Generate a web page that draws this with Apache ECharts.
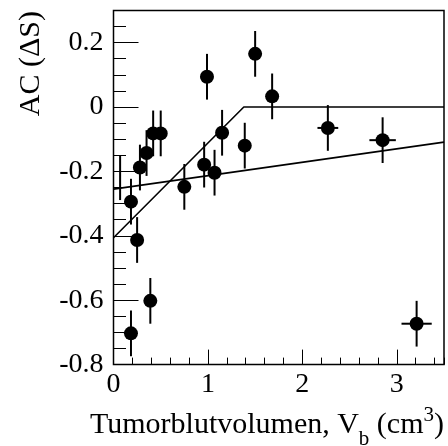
<!DOCTYPE html>
<html><head><meta charset="utf-8">
<script src="https://cdn.jsdelivr.net/npm/echarts@6/dist/echarts.min.js"></script>
<style>html,body{margin:0;padding:0;background:#fff}#c{width:448px;height:446px}</style>
</head><body><div id="c"></div>
<script>
// Data
const pointX = [0.185, 0.185, 0.25, 0.28, 0.35, 0.39, 0.42, 0.50, 0.75, 0.96, 0.99, 1.07, 1.15, 1.39, 1.50, 1.68, 2.27, 2.85, 3.21];
const pointY = [-0.294, -0.703, -0.413, -0.188, -0.143, -0.602, -0.082, -0.082, -0.248, -0.179, 0.094, -0.204, -0.080, -0.120, 0.165, 0.033, -0.065, -0.103, -0.673];
const errX   = [0, 0, 0, 0, 0, 0, 0, 0, 0, 0, 0, 0, 0, 0, 0, 0, 0.11, 0.14, 0.16];
const errY   = [0.071, 0.071, 0.071, 0.071, 0.071, 0.071, 0.071, 0.071, 0.071, 0.071, 0.071, 0.071, 0.071, 0.071, 0.071, 0.071, 0.071, 0.071, 0.071];
// error bar visible without marker near the axis
const bareX = [0.07];
const bareY = [-0.219];
const bareErrY = [0.07];
// fit lines
const fitAX = [0, 1.38, 3.5];
const fitAY = [-0.406, 0, 0];
const fitBX = [0, 3.5];
const fitBY = [-0.255, -0.109];
// axis ticks
const xMin = 0, xMax = 3.5, xMajor = 1, xMinor = 0.2;
const yMin = -0.8, yMax = 0.3, yMajor = 0.2, yMinor = 0.05;
const xTitle = ['Tumorblutvolumen, V', 'b', ' (cm', '3', ')'];
const yTitle = 'AC (\u0394S)';

const FONT = '"Liberation Serif", "DejaVu Serif", serif';
const chart = echarts.init(document.getElementById('c'), null, {renderer: 'canvas'});

const pts = pointX.map((x, i) => [x, pointY[i], errX[i], errY[i]]);
const bare = bareX.map((x, i) => [x, bareY[i], 0, bareErrY[i]]);

function errRender(params, api) {
  const x = api.value(0), y = api.value(1), ex = api.value(2), ey = api.value(3);
  const children = [];
  const style = {stroke: '#000', lineWidth: 2};
  const a = api.coord([x, y - ey]), b = api.coord([x, y + ey]);
  children.push({type: 'line', shape: {x1: a[0], y1: a[1], x2: b[0], y2: b[1]}, style});
  if (ex > 0) {
    const c = api.coord([x - ex, y]), d = api.coord([x + ex, y]);
    children.push({type: 'line', shape: {x1: c[0], y1: c[1], x2: d[0], y2: d[1]}, style});
  }
  return {type: 'group', children};
}

const axisCommon = {
  splitLine: {show: false},
  axisLine: {show: false, onZero: false},
};

chart.setOption({
  animation: false,
  grid: {left: 113.5, right: 4, top: 10.4, bottom: 81.4, show: true, borderColor: '#000', borderWidth: 1.5, backgroundColor: 'transparent'},
  xAxis: [
    Object.assign({type: 'value', min: xMin, max: xMax, interval: xMajor, position: 'bottom',
      axisTick: {show: true, inside: true, length: 15, lineStyle: {color: '#000', width: 1}},
      axisLabel: {show: true, showMaxLabel: false, color: '#000', fontFamily: FONT, fontSize: 28, margin: 6}}, axisCommon),
    Object.assign({type: 'value', min: xMin, max: xMax, interval: xMinor, position: 'bottom',
      axisTick: {show: true, inside: true, length: 7, lineStyle: {color: '#000', width: 1}},
      axisLabel: {show: false}}, axisCommon)
  ],
  yAxis: [
    Object.assign({type: 'value', min: yMin, max: yMax, interval: yMajor, position: 'left',
      axisTick: {show: true, inside: true, length: 25, lineStyle: {color: '#000', width: 1}},
      axisLabel: {show: true, showMaxLabel: false, color: '#000', fontFamily: FONT, fontSize: 28, margin: 10}}, axisCommon),
    Object.assign({type: 'value', min: yMin, max: yMax, interval: yMinor, position: 'left',
      axisTick: {show: true, inside: true, length: 12.5, lineStyle: {color: '#000', width: 1}},
      axisLabel: {show: false}}, axisCommon)
  ],
  graphic: [
    {type: 'text', x: 31, y: 11, rotation: Math.PI / 2,
      style: {text: yTitle, align: 'right', verticalAlign: 'middle', fill: '#000', font: '30px ' + FONT}},
    {type: 'text', right: 4, top: 405,
      style: {
        text: '{n|' + xTitle[0] + '}{s|' + xTitle[1] + '}{n|' + xTitle[2] + '}{p|' + xTitle[3] + '}{n|' + xTitle[4] + '}',
        fill: '#000',
        rich: {
          n: {fontFamily: FONT, fontSize: 30, lineHeight: 50, verticalAlign: 'middle', fill: '#000'},
          s: {fontFamily: FONT, fontSize: 21, verticalAlign: 'bottom', fill: '#000'},
          p: {fontFamily: FONT, fontSize: 21, verticalAlign: 'top', padding: [5, 0, 0, 0], fill: '#000'}
        }
      }}
  ],
  series: [
    {type: 'line', xAxisIndex: 0, yAxisIndex: 0, data: fitAX.map((x, i) => [x, fitAY[i]]), showSymbol: false, lineStyle: {color: '#000', width: 1.6}, z: 3},
    {type: 'line', xAxisIndex: 0, yAxisIndex: 0, data: fitBX.map((x, i) => [x, fitBY[i]]), showSymbol: false, lineStyle: {color: '#000', width: 1.6}, z: 3},
    {type: 'custom', xAxisIndex: 0, yAxisIndex: 0, data: pts, renderItem: errRender, z: 4},
    {type: 'custom', xAxisIndex: 0, yAxisIndex: 0, data: bare, renderItem: errRender, z: 4},
    {type: 'scatter', xAxisIndex: 0, yAxisIndex: 0, data: pts.map(p => [p[0], p[1]]), symbol: 'circle', symbolSize: 14, itemStyle: {color: '#000', opacity: 1}, z: 5}
  ]
});
</script></body></html>
